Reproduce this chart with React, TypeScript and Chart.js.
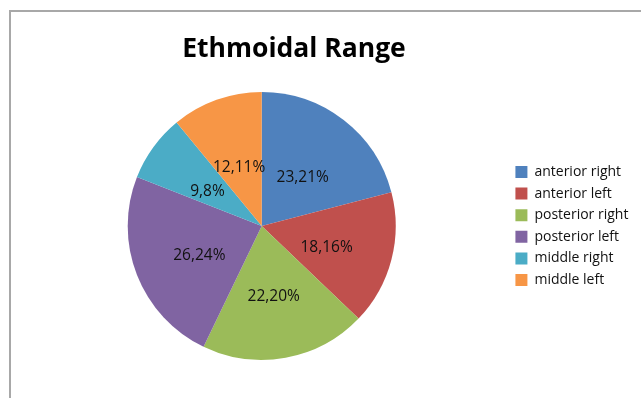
import React, { useEffect, useRef } from "react";
import { Chart, registerables } from "chart.js";

Chart.register(...registerables);

const titleText = "Ethmoidal Range";
const categories = [
  "anterior right",
  "anterior left",
  "posterior right",
  "posterior left",
  "middle right",
  "middle left",
];
const values = [44, 34, 42, 50, 17, 23];
const valueLabels = ["23,21%", "18,16%", "22,20%", "26,24%", "9,8%", "12,11%"];
const colors = ["#4F81BD", "#C0504D", "#9BBB59", "#8064A2", "#4BACC6", "#F79646"];

const FONT = "'Open Sans', Lato, sans-serif";

const sliceLabels = {
  id: "sliceLabels",
  afterDatasetsDraw(chart: any) {
    const meta = chart.getDatasetMeta(0);
    const ctx = chart.ctx;
    ctx.save();
    ctx.font = `15.5px ${FONT}`;
    ctx.fillStyle = "#111111";
    ctx.textAlign = "center";
    ctx.textBaseline = "alphabetic";
    const half = ctx.measureText("0").actualBoundingBoxAscent / 2;
    meta.data.forEach((arc: any, i: number) => {
      const p = arc.getProps(["x", "y", "startAngle", "endAngle", "outerRadius"], true);
      const mid = (p.startAngle + p.endAngle) / 2;
      const r = p.outerRadius * 0.5;
      const cx = p.x + Math.cos(mid) * r;
      const cy = p.y + Math.sin(mid) * r + 3.4;
      ctx.fillText(valueLabels[i], cx, cy + half);
    });
    ctx.restore();
  },
};

export default function App() {
  const ref = useRef<HTMLCanvasElement | null>(null);

  useEffect(() => {
    if (!ref.current) return;
    const chart = new Chart(ref.current, {
      type: "pie",
      data: {
        labels: categories,
        datasets: [
          {
            data: values,
            backgroundColor: colors,
            borderWidth: 0,
            hoverOffset: 0,
          },
        ],
      },
      options: {
        responsive: false,
        animation: false,
        devicePixelRatio: 1,
        layout: { padding: { left: 15.6, right: 2.6, top: 92, bottom: 38 } },
        plugins: {
          title: { display: false },
          tooltip: { enabled: false },
          legend: {
            position: "right",
            labels: {
              boxWidth: 12,
              boxHeight: 12,
              padding: 7.6,
              color: "#111111",
              font: { family: FONT, size: 14 },
            },
          },
        },
      },
      plugins: [sliceLabels],
    });
    return () => chart.destroy();
  }, []);

  return (
    <div
      style={{
        position: "fixed",
        left: 0,
        top: 0,
        width: 641,
        height: 398,
        background: "#ffffff",
        overflow: "hidden",
      }}
    >
      <div
        style={{
          position: "absolute",
          left: 9,
          top: 10,
          width: 700,
          height: 500,
          borderTop: "2px solid #a8a8a8",
          borderLeft: "2px solid #a8a8a8",
          boxSizing: "border-box",
        }}
      />
      <canvas
        ref={ref}
        width={641}
        height={398}
        style={{ position: "absolute", left: 0, top: 0, width: 641, height: 398 }}
      />
      <div
        style={{
          position: "absolute",
          left: 174,
          width: 240,
          top: 29,
          textAlign: "center",
          fontFamily: FONT,
          fontWeight: 700,
          fontSize: 26.5,
          lineHeight: "36px",
          color: "#000000",
          whiteSpace: "nowrap",
        }}
      >
        {titleText}
      </div>
    </div>
  );
}
